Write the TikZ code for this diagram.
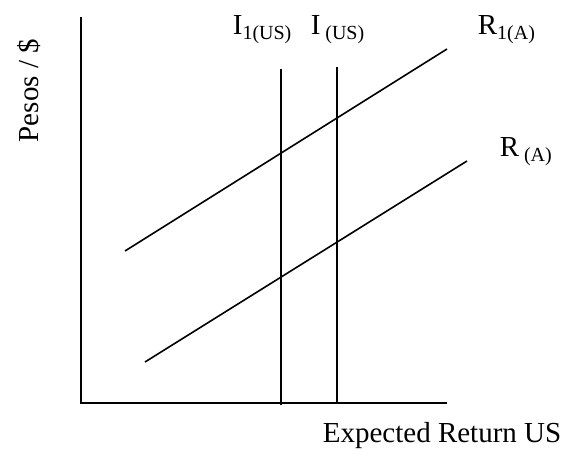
\documentclass[tikz,border=0pt]{standalone}
\usepackage{fontspec}
\setmainfont{Liberation Serif}
\usetikzlibrary{positioning}

\newcommand{\subtxt}[1]{\raisebox{-0.35ex}{\fontsize{20}{20}\selectfont #1}}

\begin{document}
\begin{tikzpicture}[x=1pt, y=-1pt, line width=1.7pt,
  lbl/.style={inner sep=0pt, anchor=base west, font=\fontsize{29}{29}\selectfont},
  curve/.style={line width=1.6pt}]
  \useasboundingbox (0,0) rectangle (573,457);
  % axes
  \coordinate (ytop) at (81,17);
  \coordinate (orig) at (81,403);
  \coordinate (xend) at (447,403);
  \draw (ytop) -- (orig) -- (xend);
  % interest rate lines
  \coordinate (i1top) at (281,69);
  \coordinate (i1bot) at (281,405);
  \coordinate (i0top) at (337,67);
  \coordinate (i0bot) at (337,403);
  \draw[curve] (i1top) -- (i1bot);
  \draw[curve] (i0top) -- (i0bot);
  % expected return lines
  \coordinate (r1a) at (125,251);
  \coordinate (r1b) at (447,49);
  \coordinate (r0a) at (145,362);
  \coordinate (r0b) at (467,161);
  \draw[curve] (r1a) -- (r1b);
  \draw[curve] (r0a) -- (r0b);
  % labels
  \node[lbl] (li1) at (232,35) {I\subtxt{1(US)}};
  \node[lbl] (li0) at (310,35) {I\,\subtxt{(US)}};
  \node[lbl] (lr1) at (477,35) {R\subtxt{1(A)}};
  \node[lbl] (lr0) at (499,157) {R\,\subtxt{(A)}};
  \node[lbl, rotate=90] (ylab) at (38,143) {Pesos / \$};
  \node[lbl] (xlab) at (322,442) {Expected Return US};
\end{tikzpicture}
\end{document}
